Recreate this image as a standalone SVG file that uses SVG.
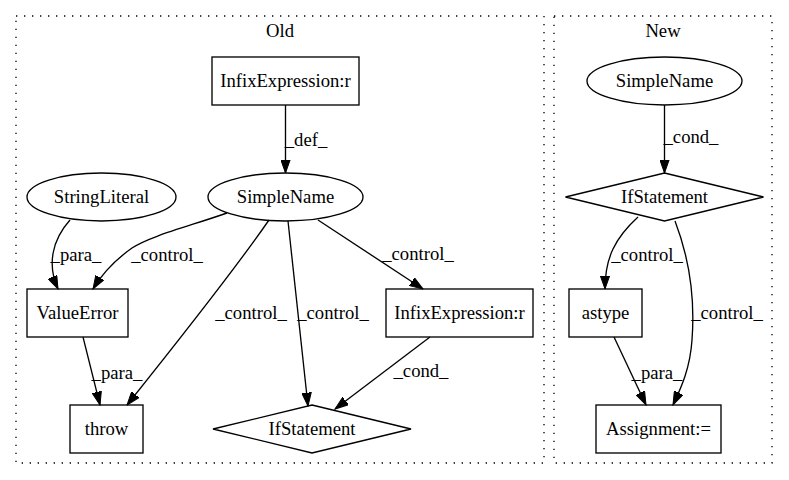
<svg xmlns="http://www.w3.org/2000/svg" width="789" height="480" viewBox="0 0 789 480">
<style>
.n{text-anchor:middle;font-family:'Liberation Serif','Times New Roman',Times,serif;font-size:18.67px;fill:#000}
.shape{fill:none;stroke:#000;stroke-width:1.33}
.cluster{fill:none;stroke:#000;stroke-width:1.33;stroke-dasharray:1.33,6.67}
.e{fill:none;stroke:#000;stroke-width:1.33;marker-end:url(#arr)}
</style>
<defs>
<marker id="arr" markerUnits="userSpaceOnUse" markerWidth="14" markerHeight="10" viewBox="0 0 14 10" refX="13.3" refY="5" orient="auto">
<path d="M0,0.3 L13.3,5 L0,9.7 z" fill="#000" stroke="#000" stroke-width="1"/>
</marker>
</defs>
<rect width="789" height="480" fill="#fff"/>
<g id="cluster_old">
<rect class="cluster" x="16" y="16" width="528" height="447"/>
<text class="n" x="280" y="37">Old</text>
</g>
<g id="cluster_new">
<rect class="cluster" x="554" y="16" width="218" height="447"/>
<text class="n" x="663" y="37">New</text>
</g>
<g id="connectors">
<path class="e" d="M285.5,105 L285.5,173"/>
<text class="n" x="306" y="146">_def_</text>
<path class="e" d="M70,220 C52,240 47,265 58,289"/>
<text class="n" x="76" y="261">_para_</text>
<path class="e" d="M227,213 C190,226 150,236 132,248 C115,260 102,274 93,289"/>
<text class="n" x="167" y="261">_control_</text>
<path class="e" d="M269,220 C240,262 175,345 127,405"/>
<text class="n" x="251" y="319">_control_</text>
<path class="e" d="M288,221 L308,406"/>
<text class="n" x="333" y="319">_control_</text>
<path class="e" d="M318,220 L423,289"/>
<text class="n" x="418" y="260">_control_</text>
<path class="e" d="M83,337 L100,405"/>
<text class="n" x="117" y="379">_para_</text>
<path class="e" d="M430,337 L335,409"/>
<text class="n" x="421" y="377">_cond_</text>
<path class="e" d="M664.5,105 L664.5,173"/>
<text class="n" x="691" y="143">_cond_</text>
<path class="e" d="M638,217 C615,238 605,258 605,289"/>
<text class="n" x="647" y="261">_control_</text>
<path class="e" d="M675,221 C690,260 695,300 692,340 C690,370 680,390 673,405"/>
<text class="n" x="727" y="319">_control_</text>
<path class="e" d="M614,337 L646,405"/>
<text class="n" x="657" y="379">_para_</text>
</g>
<g id="old_infix_top">
<rect class="shape" x="212" y="57" width="147" height="48"/>
<text class="n" x="285.5" y="87">InfixExpression:r</text>
</g>
<g id="old_simplename">
<ellipse class="shape" cx="285.5" cy="197" rx="77.5" ry="24"/>
<text class="n" x="285.5" y="203">SimpleName</text>
</g>
<g id="old_stringliteral">
<ellipse class="shape" cx="101.5" cy="197" rx="74.5" ry="24"/>
<text class="n" x="101.5" y="203">StringLiteral</text>
</g>
<g id="old_valueerror">
<rect class="shape" x="27" y="289" width="101" height="48"/>
<text class="n" x="77.5" y="319">ValueError</text>
</g>
<g id="old_infix_right">
<rect class="shape" x="386" y="289" width="147" height="48"/>
<text class="n" x="459.5" y="319">InfixExpression:r</text>
</g>
<g id="old_throw">
<rect class="shape" x="70" y="405" width="73" height="48"/>
<text class="n" x="106.5" y="435">throw</text>
</g>
<g id="old_ifstatement">
<polygon class="shape" points="312,405 411,429 312,453 213,429"/>
<text class="n" x="312" y="435">IfStatement</text>
</g>
<g id="new_simplename">
<ellipse class="shape" cx="664.5" cy="81" rx="77.5" ry="24"/>
<text class="n" x="664.5" y="87">SimpleName</text>
</g>
<g id="new_ifstatement">
<polygon class="shape" points="664.5,173 763.5,197 664.5,221 565.5,197"/>
<text class="n" x="664.5" y="203">IfStatement</text>
</g>
<g id="new_astype">
<rect class="shape" x="569" y="289" width="73" height="48"/>
<text class="n" x="605.5" y="319">astype</text>
</g>
<g id="new_assignment">
<rect class="shape" x="596" y="405" width="125" height="48"/>
<text class="n" x="658.5" y="435">Assignment:=</text>
</g>
</svg>
